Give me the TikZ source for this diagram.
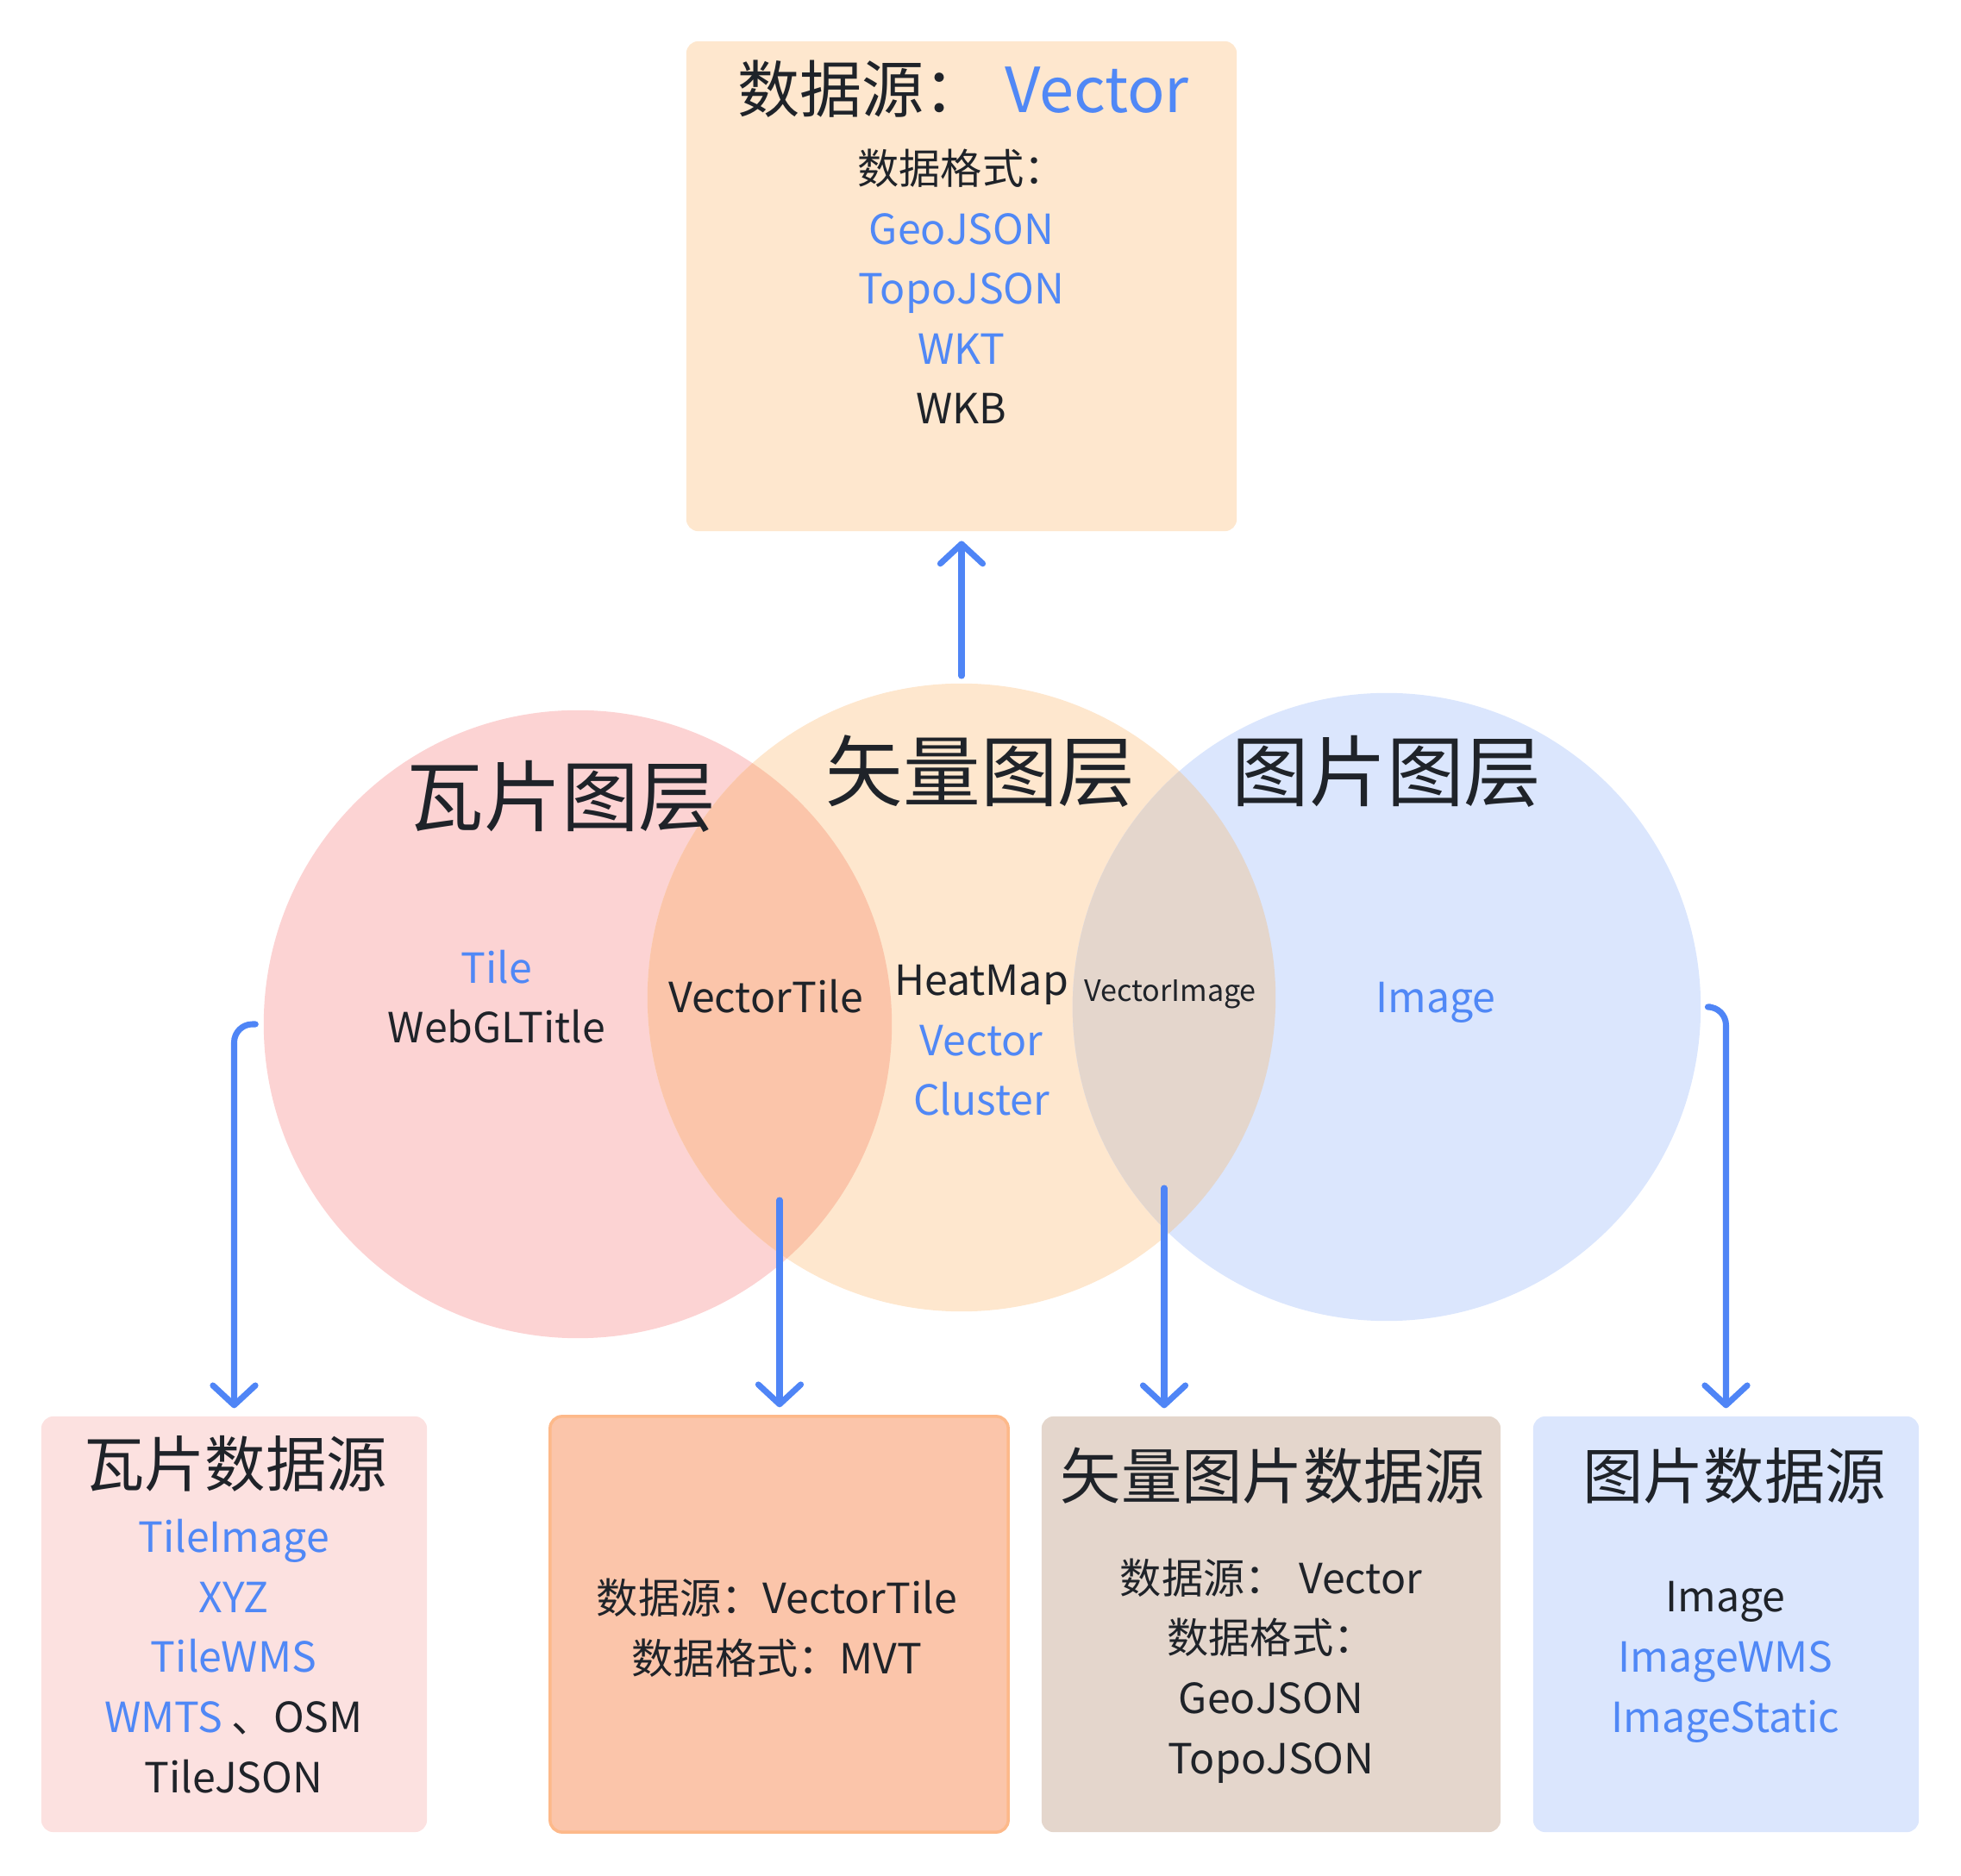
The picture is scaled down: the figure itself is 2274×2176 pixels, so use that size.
\documentclass[tikz,border=0pt]{standalone}
\usepackage{fontspec}
\setmainfont{Noto Sans CJK SC}
\usetikzlibrary{positioning,calc,arrows.meta}

\definecolor{hlblue}{HTML}{5088F6}
\definecolor{inkdark}{HTML}{1F2329}
\definecolor{arrowblue}{HTML}{4F85F6}
\definecolor{tilepink}{HTML}{FCD3D3}
\definecolor{vecpeach}{HTML}{FEE7CE}
\definecolor{imgblue}{HTML}{DBE6FD}
\definecolor{tilevec}{HTML}{FBC5AA}
\definecolor{vecimg}{HTML}{E4D6CC}
\definecolor{tilebox}{HTML}{FCE1E0}
\definecolor{vtborder}{HTML}{FDB98A}

\newcommand{\hl}[1]{\textcolor{hlblue}{#1}}

\begin{document}
\begin{tikzpicture}[
    x=0.01cm, y=-0.01cm,
    layer/.style={circle, minimum size=7.28cm, inner sep=0pt},
    srcbox/.style={rounded corners=4pt, minimum height=4.82cm, inner sep=0pt},
    body/.style={align=center, text=inkdark, anchor=base,
      font=\fontsize{13.7pt}{19.8pt}\selectfont},
    head/.style={text=inkdark, anchor=base, font=\fontsize{20pt}{24pt}\selectfont},
    big/.style={text=inkdark, anchor=base, font=\fontsize{25.5pt}{30pt}\selectfont},
    arrow/.style={-{Straight Barb[length=6.5pt,width=14pt,round]}, line width=2pt,
      draw=arrowblue, line cap=round, line join=round}
  ]
    \useasboundingbox (0,0) rectangle (2274,2176);

    % vector source on top
    \node[srcbox, fill=vecpeach, minimum width=6.38cm, minimum height=5.68cm] (vecsrc) at (1115,332) {};
    \node[head, font=\fontsize{20.5pt}{24pt}\selectfont] (vechead) at (1117,131)
      {数据源：\hspace{0.3em}\hl{Vector}};
    % base = last line
    \node[body] (vecformats) at (1115,492)
      {数据格式：\\\hl{GeoJSON}\\\hl{TopoJSON}\\\hl{WKT}\\WKB};

    % the three layers
    \node[layer, fill=tilepink] (tile) at (670,1188) {};
    \node[layer, fill=vecpeach] (vec) at (1115,1157) {};
    \node[layer, fill=imgblue] (img) at (1608,1168) {};
    \begin{scope}
      \clip (tile.center) circle[radius=3.64cm];
      \fill[tilevec] (vec.center) circle[radius=3.64cm];
    \end{scope}
    \begin{scope}
      \clip (img.center) circle[radius=3.64cm];
      \fill[vecimg] (vec.center) circle[radius=3.64cm];
    \end{scope}

    \node[big] (tiletitle) at (651,958) {瓦片图层};
    \node[big] (vectitle) at (1137,929) {矢量图层};
    \node[big] (imgtitle) at (1608,929) {图片图层};

    \node[body] (tilenames) at (576,1210) {\hl{Tile}\\WebGLTitle};
    \node[body] (vtname) at (888,1175) {VectorTile};
    \node[body] (vecnames) at (1138,1294) {HeatMap\\\hl{Vector}\\\hl{Cluster}};
    \node[body, font=\fontsize{9.7pt}{12pt}\selectfont] (viname) at (1357,1162) {VectorImage};
    \node[body] (imgname) at (1665,1175) {\hl{Image}};

    % sources below
    \node[srcbox, fill=tilebox, minimum width=4.47cm] (tilesrc) at (271.5,1884) {};
    \node[srcbox, fill=tilevec, draw=vtborder, line width=1pt, minimum width=5.31cm] (vtsrc) at (903.5,1884) {};
    \node[srcbox, fill=vecimg, minimum width=5.32cm] (visrc) at (1474,1884) {};
    \node[srcbox, fill=imgblue, minimum width=4.47cm] (imgsrc) at (2001.5,1884) {};

    \node[head] (tilesrchead) at (273,1724) {瓦片数据源};
    \node[body] (tilesrclist) at (271,2079)
      {\hl{TileImage}\\\hl{XYZ}\\\hl{TileWMS}\\\hl{WMTS} 、OSM\\TileJSON};
    \node[body] (vtsrclist) at (901,1941) {数据源：VectorTile\\数据格式：MVT};
    \node[head] (visrchead) at (1476,1738) {矢量图片数据源};
    \node[body] (visrclist) at (1474,2057)
      {数据源：\hspace{0.3em}Vector\\数据格式：\\GeoJSON\\TopoJSON};
    \node[head] (imgsrchead) at (2011,1738) {图片数据源};
    \node[body] (imgsrclist) at (2001,2009) {Image\\\hl{ImageWMS}\\\hl{ImageStatic}};

    % arrows
    \coordinate (vtfoot) at (904,1392);
    \coordinate (vifoot) at (1350,1378);
    \draw[arrow, shorten >=3pt] ([yshift=2.3pt]vec.north) -- (vecsrc.south);
    \draw[arrow, rounded corners=6pt, shorten >=2.5pt] ([xshift=-2.5pt]tile.west) -| (tilesrc.north);
    \draw[arrow, shorten >=2.5pt] (vtfoot) -- (vtfoot |- vtsrc.north);
    \draw[arrow, shorten >=2.5pt] (vifoot) -- (vifoot |- visrc.north);
    \draw[arrow, rounded corners=6pt, shorten >=2.5pt] ([xshift=3pt]img.east) -| (imgsrc.north);
  \end{tikzpicture}
\end{document}
